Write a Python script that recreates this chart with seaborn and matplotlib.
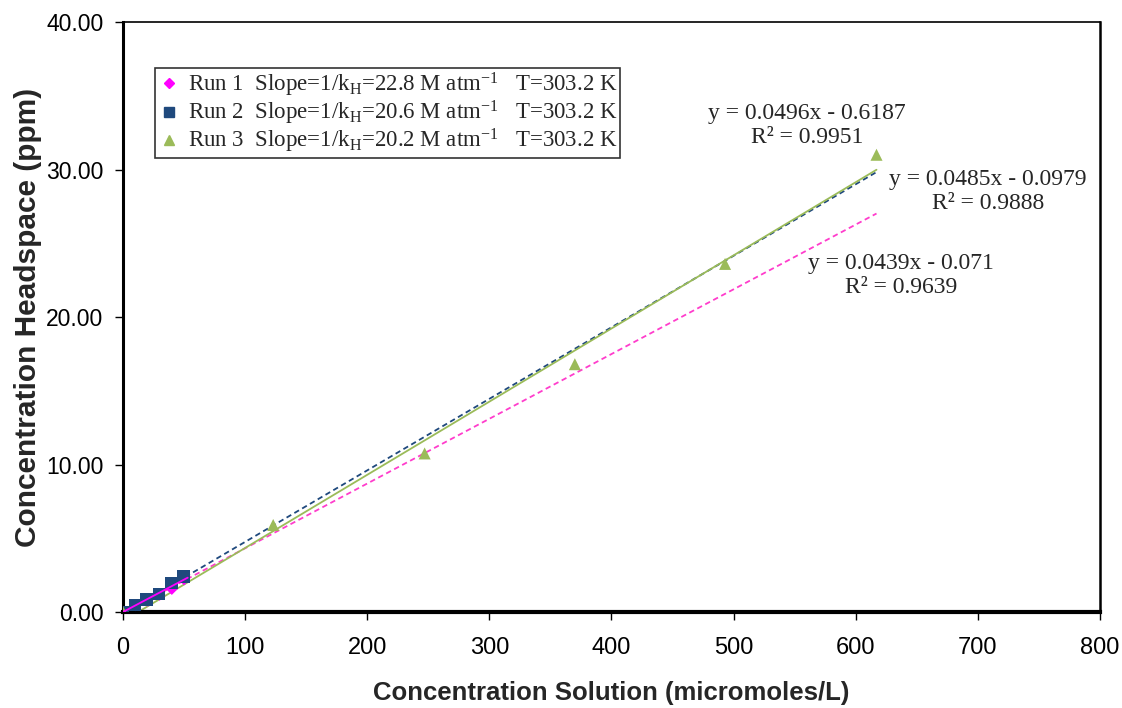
import numpy as np
import pandas as pd
import matplotlib
matplotlib.use("Agg")
import matplotlib.pyplot as plt
import seaborn as sns
from matplotlib.lines import Line2D

# ---- data ----
run1_x = [0, 10, 20, 30, 40, 50]
run1_y = [0.0, 0.45, 0.75, 1.15, 1.55, 2.2]
run2_x = [0, 9.8, 19.4, 29.7, 39.8, 49.4]
run2_y = [0.0, 0.47, 0.86, 1.22, 1.95, 2.4]
run3_x = [0, 123, 247, 370, 493, 617]
run3_y = [0.0, 5.9, 10.75, 16.8, 23.6, 31.0]

series_names = ["Run 1", "Run 2", "Run 3"]
legend_labels = [
    r"Run 1  Slope=1/k$\mathregular{_H}$=22.8 M atm$\mathregular{^{-1}}$   T=303.2 K$\;\;\;$",
    r"Run 2  Slope=1/k$\mathregular{_H}$=20.6 M atm$\mathregular{^{-1}}$   T=303.2 K$\;\;\;$",
    r"Run 3  Slope=1/k$\mathregular{_H}$=20.2 M atm$\mathregular{^{-1}}$   T=303.2 K$\;\;\;$",
]
fit_slope = [0.0439, 0.0485, 0.0496]
fit_icpt = [-0.071, -0.0979, -0.6187]
fit_r2 = [0.9639, 0.9888, 0.9951]
fit_xmax = [617, 617, 617]
fit_label_xy = [(637, 22.8), (708, 28.5), (560, 33.0)]

x_ticks = [0, 100, 200, 300, 400, 500, 600, 700, 800]
y_ticks = [0, 10, 20, 30, 40]

# ---- styling ----
point_colors = {"Run 1": "#FF00FF", "Run 2": "#1F497D", "Run 3": "#9BBB59"}
line_colors = ["#FF3DCC", "#1F497D", "#9BBB59"]
line_styles = [(0, (3, 2)), (0, (3, 2)), "-"]
markers = {"Run 1": "D", "Run 2": "s", "Run 3": "^"}
sizes = {"Run 1": 35, "Run 2": 80, "Run 3": 75}

sns.set_theme(style="white")
plt.rcParams["font.family"] = ["Liberation Sans", "DejaVu Sans"]

df = pd.DataFrame({
    "x": run1_x + run2_x + run3_x,
    "y": run1_y + run2_y + run3_y,
    "run": ["Run 1"] * len(run1_x) + ["Run 2"] * len(run2_x) + ["Run 3"] * len(run3_x),
})

fig = plt.figure(figsize=(11.22, 7.08), dpi=100)
ax = fig.add_axes([0.1096, 0.1356, 0.8708, 0.8333])

# trendlines
for i in range(3):
    xs = np.array([0.0, fit_xmax[i]])
    if i == 2:
        xs[0] = -fit_icpt[i] / fit_slope[i]
    ys = fit_slope[i] * xs + fit_icpt[i]
    ax.plot(xs, ys, color=line_colors[i], linestyle=line_styles[i], lw=1.3, zorder=2)

# solid segment for run 1 over its data range
xs1 = np.array([0.0, 53.0])
ax.plot(xs1, fit_slope[0] * xs1, color="#FF00FF", lw=1.3, zorder=4)

sns.scatterplot(data=df, x="x", y="y", hue="run", style="run",
                palette=point_colors, markers=markers, size="run", sizes=sizes,
                linewidth=0, ax=ax, zorder=3, legend=False)

# legend
handles = [
    Line2D([], [], linestyle="none", marker=markers[n], color=point_colors[n],
           markersize=(5.5 if n == "Run 1" else 7))
    for n in series_names
]
leg = ax.legend(handles, legend_labels, loc="upper left",
                bbox_to_anchor=(0.0328, 0.922), borderaxespad=0,
                frameon=True, fancybox=False, edgecolor="black",
                prop={"family": "Liberation Serif", "size": 16.5},
                handletextpad=0.3, handlelength=1.0, labelspacing=0.0,
                borderpad=0.12)
leg.get_frame().set_linewidth(1.2)

# trendline labels
for i in range(3):
    lx, ly = fit_label_xy[i]
    sign = "-" if fit_icpt[i] < 0 else "+"
    txt = f"y = {fit_slope[i]:g}x {sign} {abs(fit_icpt[i]):g}\nR² = {fit_r2[i]:.4f}"
    ax.text(lx, ly, txt, ha="center", va="center", family="Liberation Serif",
            fontsize=17, linespacing=1.2, clip_on=False)

ax.set_xlim(0, 800)
ax.set_ylim(0, 40)
ax.set_xticks(x_ticks)
ax.set_yticks(y_ticks)
ax.set_yticklabels([f"{v:.2f}" for v in y_ticks])
ax.tick_params(axis="x", direction="out", length=6, width=1, pad=12,
               labelsize=17, colors="black", bottom=True)
ax.tick_params(axis="y", direction="out", length=6, width=1, pad=8,
               labelsize=16.5, colors="black", left=True)
for s in ["left", "bottom", "right", "top"]:
    ax.spines[s].set_color("black")
ax.spines["left"].set_linewidth(2.2)
ax.spines["bottom"].set_linewidth(3)
ax.spines["right"].set_linewidth(1.8)
ax.spines["top"].set_linewidth(1.2)

ax.set_xlabel("Concentration Solution (micromoles/L)", fontsize=18.5,
              fontweight="bold", labelpad=16)
ax.set_ylabel("Concentration Headspace (ppm)", fontsize=21.5,
              fontweight="bold", labelpad=3)

fig.savefig("out.png", dpi=100)
